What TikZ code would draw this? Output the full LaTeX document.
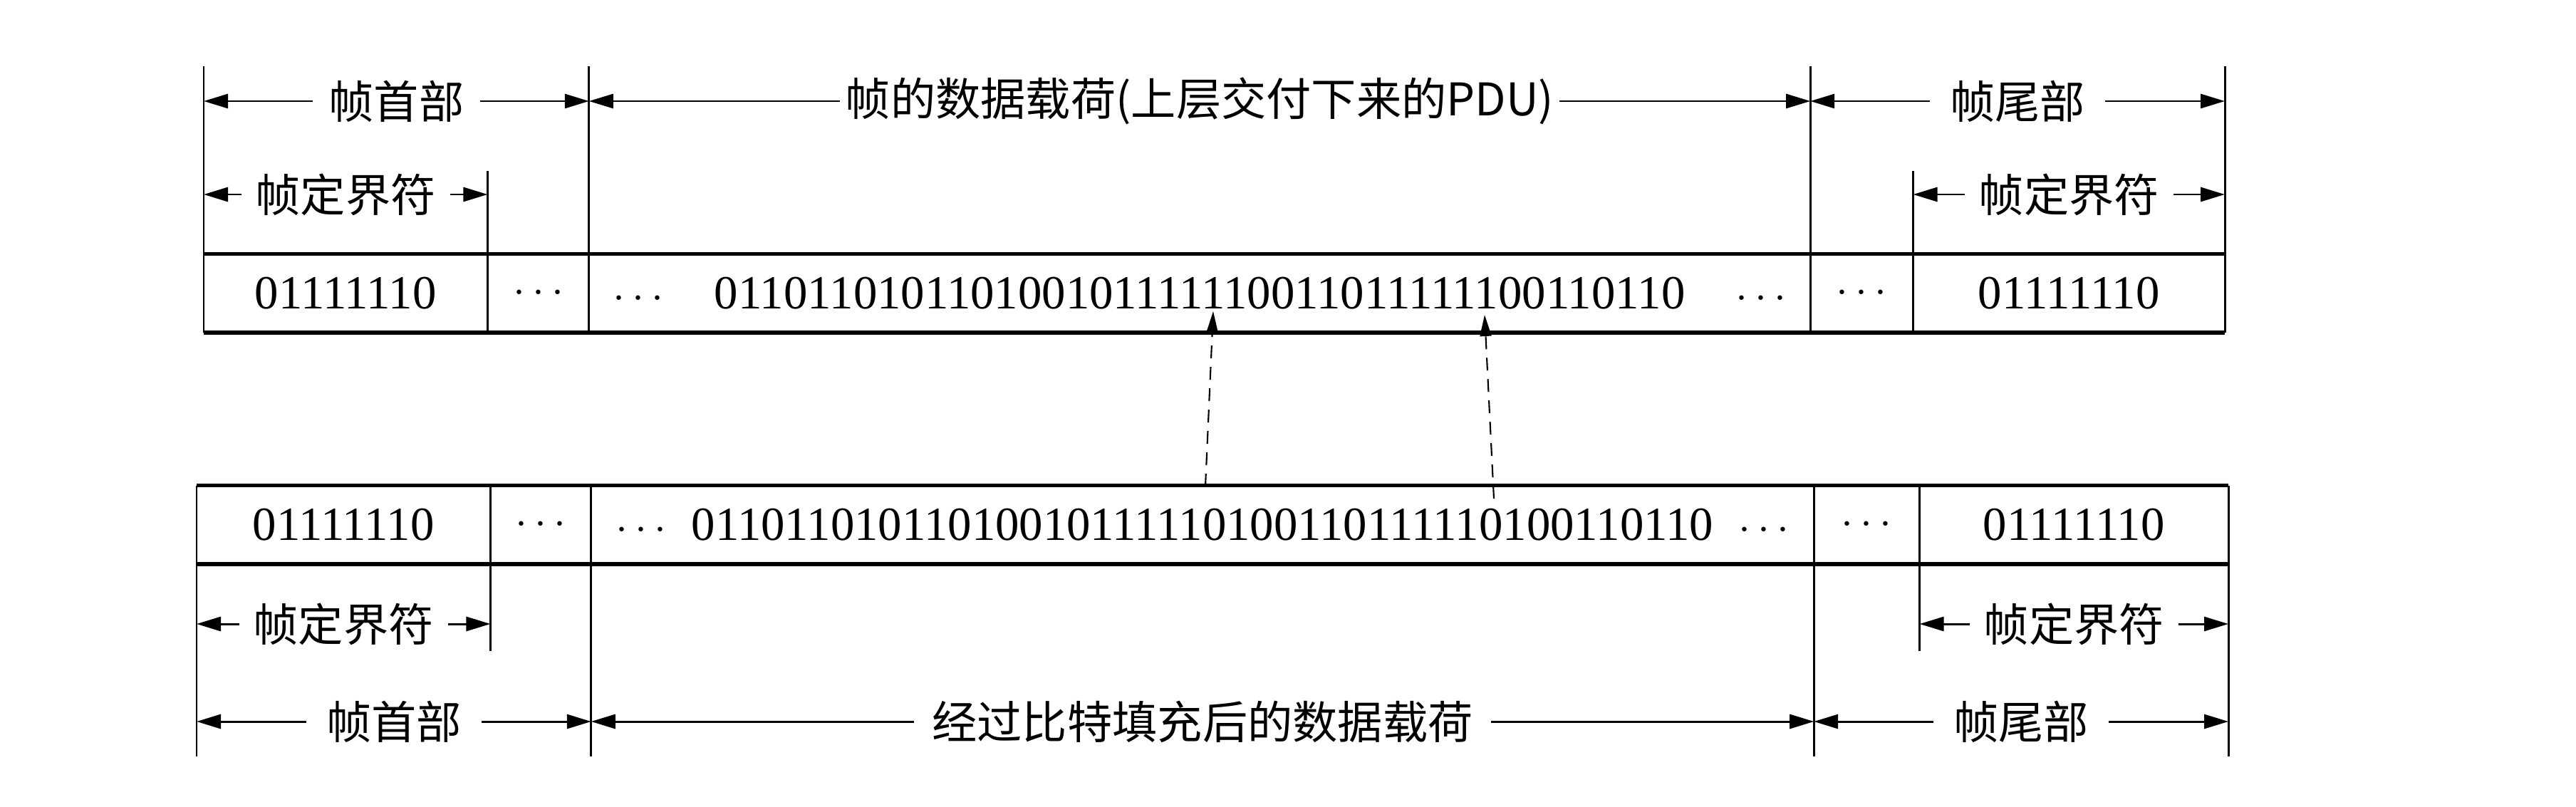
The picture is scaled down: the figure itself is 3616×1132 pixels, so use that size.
\documentclass[tikz,border=0pt]{standalone}
\usepackage{fontspec}
\setmainfont{Liberation Serif}
\newfontfamily\cjk{Noto Sans CJK SC}
\usepackage{tikz}
\usetikzlibrary{arrows.meta,positioning}

\begin{document}
\begin{tikzpicture}[x=0.1mm, y=0.1mm, >={Triangle[length=3.4mm,width=2mm]}]
    % Define styles
    \tikzstyle{cell} = [minimum height=10.9mm, inner sep=0pt, font=\fontsize{19pt}{23pt}\selectfont]
    \tikzstyle{rule} = [line width=1.6pt]
    \tikzstyle{ext} = [line width=0.85pt]
    \tikzstyle{dim} = [line width=0.85pt, <->]
    \tikzstyle{lbl} = [fill=white, inner xsep=2.3mm, inner ysep=1pt, font=\cjk\fontsize{18pt}{22pt}\selectfont]
    \tikzstyle{stuffed} = [line width=0.6pt, dash pattern=on 1.8mm off 1.2mm, -{Triangle[length=3mm,width=1.6mm]}]

    \useasboundingbox (0,0) rectangle (3616,1132);

    % Heights of the dimension lines
    \coordinate (tTop) at (0,1039);
    \coordinate (tArr) at (0,990);
    \coordinate (tIn) at (0,892);
    \coordinate (tDlm) at (0,859);
    \coordinate (bDlm) at (0,256);
    \coordinate (bIn) at (0,218);
    \coordinate (bArr) at (0,119);
    \coordinate (bBot) at (0,70);

    % Frame before stuffing
    \node [cell, minimum width=39.7mm, anchor=south west] (tfL) at (286,665) {01111110};
    \node [cell, minimum width=14.1mm, right=0pt of tfL] (tdL) {$\cdots$};
    \node [cell, minimum width=171.3mm, right=0pt of tdL] (tpay) {$\cdots$\hspace{7.1mm}011011010110100101111110011011111100110110\hspace{7.1mm}$\cdots$};
    \node [cell, minimum width=14.3mm, right=0pt of tpay] (tdR) {$\cdots$};
    \node [cell, minimum width=43.6mm, right=0pt of tdR] (tfR) {01111110};

    \draw [rule] (tfL.north west) -- (tfR.north east);
    \draw [rule] (tfL.south west) -- (tfR.south east);
    \draw [ext] (tfL.south west) -- (tfL.west |- tTop);
    \draw [ext] (tfL.south east) -- (tfL.east |- tIn);
    \draw [ext] (tdL.south east) -- (tdL.east |- tTop);
    \draw [ext] (tpay.south east) -- (tpay.east |- tTop);
    \draw [ext] (tdR.south east) -- (tdR.east |- tIn);
    \draw [ext] (tfR.south east) -- (tfR.east |- tTop);

    \draw [dim] (tfL.west |- tArr) -- node [lbl] {帧首部} (tdL.east |- tArr);
    \draw [dim] (tdL.east |- tArr) -- node [lbl, inner xsep=0.8mm] {帧的数据载荷(上层交付下来的PDU)} (tpay.east |- tArr);
    \draw [dim] (tpay.east |- tArr) -- node [lbl, inner xsep=2.8mm] {帧尾部} (tfR.east |- tArr);
    \draw [dim] (tfL.west |- tDlm) -- node [lbl, inner xsep=2mm] {帧定界符} (tfL.east |- tDlm);
    \draw [dim] (tdR.east |- tDlm) -- node [lbl, inner xsep=2mm] {帧定界符} (tfR.east |- tDlm);

    % Frame after stuffing
    \node [cell, minimum width=41.1mm, anchor=south west] (bfL) at (276,340) {01111110};
    \node [cell, minimum width=14mm, right=0pt of bfL] (bdL) {$\cdots$};
    \node [cell, minimum width=171.5mm, right=0pt of bdL] (bpay) {$\cdots$\hspace{3.5mm}01101101011010010111110100110111110100110110\hspace{3.5mm}$\cdots$};
    \node [cell, minimum width=14.7mm, right=0pt of bpay] (bdR) {$\cdots$};
    \node [cell, minimum width=43.2mm, right=0pt of bdR] (bfR) {01111110};

    \draw [rule] (bfL.north west) -- (bfR.north east);
    \draw [rule] (bfL.south west) -- (bfR.south east);
    \draw [ext] (bfL.north west) -- (bfL.west |- bBot);
    \draw [ext] (bfL.north east) -- (bfL.east |- bIn);
    \draw [ext] (bdL.north east) -- (bdL.east |- bBot);
    \draw [ext] (bpay.north east) -- (bpay.east |- bBot);
    \draw [ext] (bdR.north east) -- (bdR.east |- bIn);
    \draw [ext] (bfR.north east) -- (bfR.east |- bBot);

    \draw [dim] (bfL.west |- bArr) -- node [lbl, inner xsep=2.8mm] {帧首部} (bdL.east |- bArr);
    \draw [dim] (bdL.east |- bArr) -- node [lbl, inner xsep=2.5mm] {经过比特填充后的数据载荷} (bpay.east |- bArr);
    \draw [dim] (bpay.east |- bArr) -- node [lbl, inner xsep=2.8mm] {帧尾部} (bfR.east |- bArr);
    \draw [dim] (bfL.west |- bDlm) -- node [lbl, inner xsep=2mm] {帧定界符} (bfL.east |- bDlm);
    \draw [dim] (bdR.east |- bDlm) -- node [lbl, inner xsep=2mm] {帧定界符} (bfR.east |- bDlm);

    % Stuffed zeros
    \coordinate (s1) at (1692,449);
    \coordinate (p1) at (1703,695);
    \coordinate (s2) at (2097,432);
    \coordinate (p2) at (2084,690);
    \draw [stuffed] (s1) -- (p1);
    \draw [stuffed] (s2) -- (p2);
\end{tikzpicture}
\end{document}
